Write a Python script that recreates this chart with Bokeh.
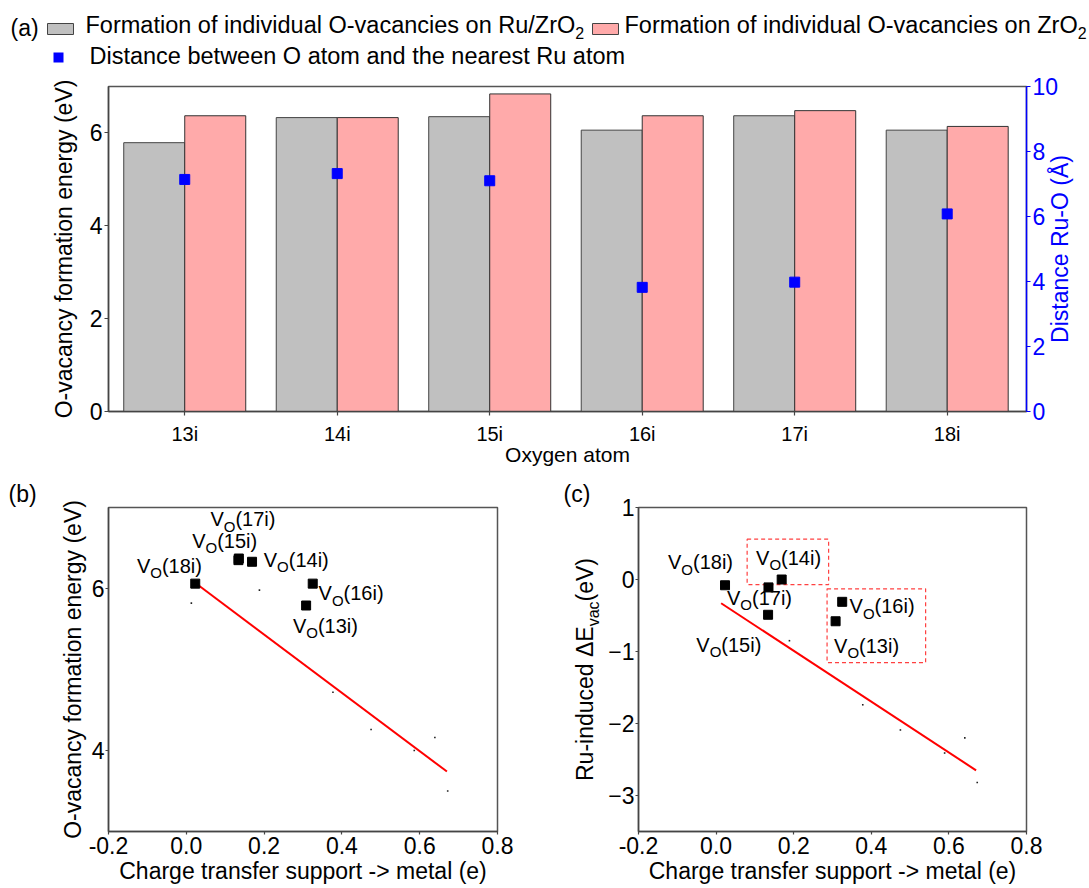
import math
from bokeh.plotting import figure
from bokeh.models import Range1d, LinearAxis, FixedTicker, Label, NumeralTickFormatter, Title
from bokeh.layouts import column, row
from bokeh.embed import file_html
from bokeh.resources import INLINE
from bokeh.core.properties import value

FONT = "Liberation Sans"

# ---------------- data ----------------
atoms = ["13i", "14i", "15i", "16i", "17i", "18i"]
e_vac_ru_zro2 = [5.79, 6.33, 6.35, 6.06, 6.37, 6.06]      # eV, grey bars
e_vac_zro2 = [6.37, 6.33, 6.84, 6.37, 6.48, 6.14]         # eV, pink bars
dist_ru_o = [7.14, 7.32, 7.10, 3.82, 3.98, 6.08]          # Angstrom, blue squares
charge_transfer = [0.308, 0.169, 0.134, 0.325, 0.135, 0.023]  # e
ru_induced_dE = [-0.58, 0.00, -0.49, -0.31, -0.11, -0.08]     # eV

fit_b_x = [0.02, 0.67]
fit_b_y = [6.08, 3.74]
fit_c_x = [0.013, 0.67]
fit_c_y = [-0.33, -2.65]

aux_b_x = [0.013, 0.188, 0.377, 0.475, 0.586, 0.639, 0.672]
aux_b_y = [5.82, 5.98, 4.72, 4.26, 4.00, 4.16, 3.50]
aux_c_x = [0.189, 0.378, 0.475, 0.589, 0.641, 0.673]
aux_c_y = [-0.85, -1.74, -2.09, -2.41, -2.20, -2.82]

# label anchors (left / baseline), in data units
b_lab_x = [0.274, 0.199, 0.015, 0.340, 0.062, -0.127]
b_lab_y = [5.45, 6.265, 6.50, 5.85, 6.765, 6.195]
c_lab_x = [0.304, 0.103, -0.051, 0.344, 0.028, -0.124]
c_lab_y = [-1.017, 0.20, -1.003, -0.474, -0.359, 0.138]

box_left = [0.08, 0.286]
box_right = [0.29, 0.54]
box_bottom = [-0.07, -1.155]
box_top = [0.56, -0.13]

# ---------------- helpers ----------------
ADV = {' ': 278, '(': 333, ')': 333, '-': 333, '.': 278, '/': 278, '>': 584,
       'Å': 667, 'Δ': 668,
       'A': 667, 'B': 667, 'C': 722, 'D': 722, 'E': 667, 'F': 611, 'G': 778, 'H': 722,
       'I': 278, 'J': 500, 'K': 667, 'L': 556, 'M': 833, 'N': 722, 'O': 778, 'P': 667,
       'Q': 778, 'R': 722, 'S': 667, 'T': 611, 'U': 722, 'V': 667, 'W': 944, 'X': 667,
       'Y': 667, 'Z': 611,
       'a': 556, 'b': 556, 'c': 500, 'd': 556, 'e': 556, 'f': 278, 'g': 556, 'h': 556,
       'i': 222, 'j': 222, 'k': 500, 'l': 222, 'm': 833, 'n': 556, 'o': 556, 'p': 556,
       'q': 556, 'r': 333, 's': 500, 't': 278, 'u': 556, 'v': 500, 'w': 722, 'x': 500,
       'y': 500, 'z': 500}

BASE_FIX = 0.36   # em; renderer places the "alphabetic" baseline this much lower


def tw(s, px):
    return sum(ADV.get(ch, 556) for ch in s) * px / 1000.0


def add_label(p, x, y, text, size, xo=0.0, drop=0.0, align="left", color="black"):
    p.add_layout(Label(x=x, y=y, text=text, x_offset=xo, y_offset=-drop + BASE_FIX * size,
                       text_font=FONT, text_font_size=f"{size}px", text_align=align,
                       text_baseline="alphabetic", text_color=color))


def style_axis(ax, size, color="black", line_color="#444444", standoff=2, tick_out=4):
    ax.axis_line_color = line_color
    ax.axis_line_width = 1.5
    ax.major_tick_line_color = line_color
    ax.major_tick_line_width = 1.2
    ax.major_tick_out = tick_out
    ax.major_tick_in = 0
    ax.minor_tick_line_color = None
    ax.major_label_text_font = FONT
    ax.major_label_text_font_size = f"{size}px"
    ax.major_label_text_color = color
    ax.major_label_standoff = standoff


def style_axis_label(ax, text, size, standoff, color="black"):
    ax.axis_label = text
    ax.axis_label_text_font = FONT
    ax.axis_label_text_font_size = f"{size}px"
    ax.axis_label_text_font_style = "normal"
    ax.axis_label_text_color = color
    ax.axis_label_standoff = standoff


def vo_label(p, x, y, atom):
    base, sub = 20, 15
    w_v = tw("V", base)
    w_o = tw("O", sub)
    add_label(p, x, y, "V", base)
    add_label(p, x, y, "O", sub, xo=w_v, drop=5)
    add_label(p, x, y, f"({atom})", base, xo=w_v + w_o)


def tag_title(text, offset):
    return Title(text=text, align="left", offset=offset, standoff=2,
                 text_font=FONT, text_font_size="23px", text_font_style="normal",
                 text_color="black")


def plain(width, height, x_range, y_range, **borders):
    f = figure(width=width, height=height, x_range=x_range, y_range=y_range,
               toolbar_location=None, output_backend="svg",
               x_axis_location=None, y_axis_location=None, **borders)
    f.outline_line_color = None
    f.grid.grid_line_color = None
    return f


# ---------------- header (legend of panel a) ----------------
hdr = plain(1089, 70, Range1d(0, 1089), Range1d(70, 0), min_border=0)
LEG = 23.5
TXT = dict(text_font=value(FONT), text_baseline="alphabetic", text_align="left", text_color="black")


def htext(x, y, s, size):
    hdr.text(x=[x], y=[y - BASE_FIX * size], text=[s], text_font_size=value(f"{size}px"), **TXT)


htext(10, 36, "(a)", 23)
hdr.rect(x=[60], y=[28.5], width=[26], height=[11], fill_color="#c0c0c0", line_color="#444444", line_width=1)
t1 = "Formation of individual O-vacancies on Ru/ZrO"
htext(85, 32.5, t1, LEG)
htext(85 + tw(t1, LEG), 38, "2", 16)
hdr.rect(x=[605], y=[28.5], width=[26], height=[11], fill_color="#ffaaaa", line_color="#444444", line_width=1)
t2 = "Formation of individual O-vacancies on ZrO"
htext(624, 32.5, t2, LEG)
htext(624 + tw(t2, LEG), 38, "2", 16)
hdr.rect(x=[58], y=[57], width=[10], height=[10], fill_color="#0000ff", line_color=None)
htext(89, 64, "Distance between O atom and the nearest Ru atom", LEG)

# ---------------- panel (a) ----------------
pa = figure(width=1089, height=407, x_range=Range1d(-0.5, 5.52), y_range=Range1d(0, 7),
            toolbar_location=None, output_backend="svg",
            min_border_left=108, min_border_right=58, min_border_top=16, min_border_bottom=66)
pa.grid.grid_line_color = None
pa.outline_line_color = "#555555"
pa.outline_line_width = 1.5
DIST_RANGE = Range1d(0, 10)
pa.extra_y_ranges = {"dist": DIST_RANGE}

idx = list(range(len(atoms)))
pa.vbar(x=[i - 0.2 for i in idx], top=e_vac_ru_zro2, width=0.4, bottom=0,
        fill_color="#c0c0c0", line_color="#444444", line_width=1)
pa.vbar(x=[i + 0.2 for i in idx], top=e_vac_zro2, width=0.4, bottom=0,
        fill_color="#ffaaaa", line_color="#333333", line_width=1)
pa.scatter(x=idx, y=dist_ru_o, y_range_name="dist", marker="square", size=10,
           fill_color="#0000ff", line_color="#0000ff")

pa.xaxis.ticker = FixedTicker(ticks=idx)
pa.xaxis.major_label_overrides = {i: a for i, a in enumerate(atoms)}
style_axis(pa.xaxis[0], 20, standoff=7, tick_out=4)
style_axis_label(pa.xaxis[0], "Oxygen atom", 21, -5)
pa.yaxis.ticker = FixedTicker(ticks=[0, 2, 4, 6])
style_axis(pa.yaxis[0], 23)
style_axis_label(pa.yaxis[0], "O-vacancy formation energy (eV)", 23, 10)

# right axis: ticks and numbers
ax_r = LinearAxis(y_range_name="dist", ticker=FixedTicker(ticks=[0, 2, 4, 6, 8, 10]))
style_axis(ax_r, 23, color="#0000ff", line_color="#0000ff")
pa.add_layout(ax_r, "right")

# right axis title, written bottom-to-top as a single rotated tick label of a bare axis
R_TITLE = "Distance Ru-O (Å)"
FRAME_H = 325.0
span = DIST_RANGE.end - DIST_RANGE.start
t0 = round((DIST_RANGE.start + DIST_RANGE.end) / 2 - tw(R_TITLE, 23) / 2 * span / FRAME_H, 2)
ax_t = LinearAxis(y_range_name="dist", ticker=FixedTicker(ticks=[t0]))
ax_t.major_label_overrides = {t0: R_TITLE}
ax_t.major_label_orientation = math.pi / 2
ax_t.axis_line_color = None
ax_t.major_tick_line_color = None
ax_t.minor_tick_line_color = None
ax_t.major_tick_out = 0
ax_t.major_tick_in = 0
ax_t.major_label_standoff = -1
ax_t.major_label_text_font = FONT
ax_t.major_label_text_font_size = "23px"
ax_t.major_label_text_color = "#0000ff"
pa.add_layout(ax_t, "right")

# ---------------- panel (b) ----------------
pb = figure(width=530, height=411, x_range=Range1d(-0.2, 0.8), y_range=Range1d(3, 7),
            toolbar_location=None, output_backend="svg",
            min_border_left=108, min_border_right=33, min_border_top=28, min_border_bottom=54)
pb.grid.grid_line_color = None
pb.outline_line_color = "#555555"
pb.outline_line_width = 1.5
pb.xaxis.ticker = FixedTicker(ticks=[-0.2, 0.0, 0.2, 0.4, 0.6, 0.8])
pb.xaxis.formatter = NumeralTickFormatter(format="0.0")
style_axis(pb.xaxis[0], 23, standoff=2, tick_out=3)
style_axis_label(pb.xaxis[0], "Charge transfer support -> metal (e)", 23, 1)
pb.yaxis.ticker = FixedTicker(ticks=[4, 6])
style_axis(pb.yaxis[0], 23, standoff=1, tick_out=3)
style_axis_label(pb.yaxis[0], "O-vacancy formation energy (eV)", 23, 3)
pb.add_layout(tag_title("(b)", -100), "above")

pb.scatter(x=aux_b_x, y=aux_b_y, marker="square", size=1.6, fill_color="#222222", line_color=None)
pb.line(x=fit_b_x, y=fit_b_y, line_color="#ff0000", line_width=2)
pb.scatter(x=charge_transfer, y=e_vac_ru_zro2, marker="square", size=9,
           fill_color="black", line_color="black")
for a, lx, ly in zip(atoms, b_lab_x, b_lab_y):
    vo_label(pb, lx, ly, a)

# ---------------- panel (c) ----------------
pc = figure(width=484, height=411, x_range=Range1d(-0.2, 0.8), y_range=Range1d(-3.5, 1),
            toolbar_location=None, output_backend="svg",
            min_border_left=32, min_border_right=63, min_border_top=28, min_border_bottom=57)
pc.grid.grid_line_color = None
pc.outline_line_color = "#555555"
pc.outline_line_width = 1.5
pc.xaxis.ticker = FixedTicker(ticks=[-0.2, 0.0, 0.2, 0.4, 0.6, 0.8])
pc.xaxis.formatter = NumeralTickFormatter(format="0.0")
style_axis(pc.xaxis[0], 23, standoff=2, tick_out=3)
style_axis_label(pc.xaxis[0], "Charge transfer support -> metal (e)", 23, 1)
pc.yaxis.ticker = FixedTicker(ticks=[-3, -2, -1, 0, 1])
style_axis(pc.yaxis[0], 23, standoff=1, tick_out=3)

pc.quad(left=box_left, right=box_right, bottom=box_bottom, top=box_top,
        fill_color=None, line_color="#ff4040", line_dash="4 3", line_width=1.2)
pc.scatter(x=aux_c_x, y=aux_c_y, marker="square", size=1.6, fill_color="#222222", line_color=None)
pc.line(x=fit_c_x, y=fit_c_y, line_color="#ff0000", line_width=2)
pc.scatter(x=charge_transfer, y=ru_induced_dE, marker="square", size=9,
           fill_color="black", line_color="black")
for a, lx, ly in zip(atoms, c_lab_x, c_lab_y):
    vo_label(pc, lx, ly, a)

# strip holding the (c) tag and the y-axis title with its subscript
strip = plain(75, 411, Range1d(0, 75), pc.y_range,
              min_border_left=0, min_border_right=0, min_border_top=28, min_border_bottom=57)
strip.add_layout(tag_title("(c)", 33), "above")
pieces = [("Ru-induced ΔE", 23, 0), ("vac", 16, 6), ("(eV)", 23, 0)]
total = sum(tw(t, s) for t, s, _ in pieces)
cum = 0.0
for t, s, drop in pieces:
    strip.text(x=[63 + drop - BASE_FIX * s], y=[-1.25], text=[t], angle=math.pi / 2,
               x_offset=0, y_offset=total / 2 - cum,
               text_font=value(FONT), text_font_size=value(f"{s}px"),
               text_baseline="alphabetic", text_align="left", text_color="black")
    cum += tw(t, s)

layout = column(row(hdr), pa, row(pb, strip, pc, spacing=0), spacing=0)
open("out.html", "w").write(file_html(layout, INLINE))
